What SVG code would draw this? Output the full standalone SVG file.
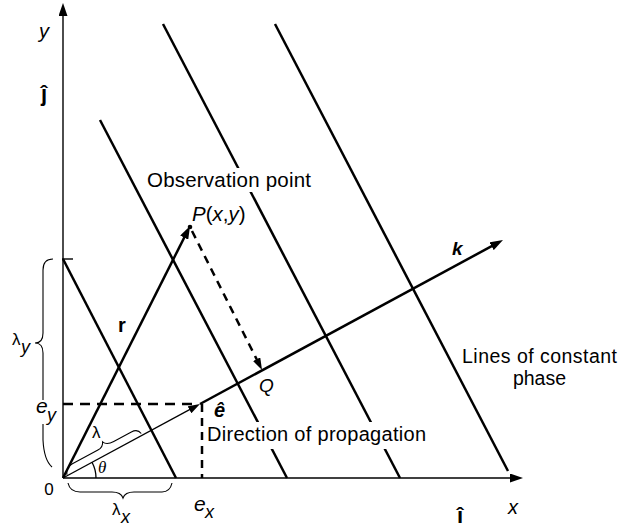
<svg xmlns="http://www.w3.org/2000/svg" width="621" height="531" viewBox="0 0 621 531">
<style>
text{font-family:"Liberation Sans",Arial,Helvetica,sans-serif;fill:#000}
.it{font-style:italic}
.bd{font-weight:bold}
.ser{font-family:"Liberation Serif","Times New Roman",serif;font-style:italic}
.ax{stroke:#000;stroke-width:1.4;fill:none}
.ph{stroke:#000;stroke-width:2.5;fill:none}
.thick{stroke:#000;stroke-width:2.5;fill:none}
.thin{stroke:#000;stroke-width:1.3;fill:none}
.dash{stroke:#000;stroke-width:2.5;fill:none;stroke-dasharray:10 7}
.dash2{stroke:#000;stroke-width:2.5;fill:none;stroke-dasharray:8 6}
.brace{stroke:#000;stroke-width:1.1;fill:none}
.bg{fill:#fff;stroke:none}
</style>
<defs>
<marker id="ah" viewBox="0 0 13 9" refX="8" refY="4.5" markerWidth="13" markerHeight="9" markerUnits="userSpaceOnUse" orient="auto">
<path d="M0,0 L13,4.5 L0,9 z" fill="#000"/>
</marker>
<marker id="ahs" viewBox="0 0 12 8" refX="7" refY="4" markerWidth="12" markerHeight="8" markerUnits="userSpaceOnUse" orient="auto">
<path d="M0,0 L12,4 L0,8 z" fill="#000"/>
</marker>
</defs>
<rect width="621" height="531" fill="#fff"/>

<g id="axes">
<line class="ax" x1="63" y1="478" x2="63" y2="8" marker-end="url(#ah)"/>
<line class="ax" x1="63" y1="478" x2="518" y2="478" marker-end="url(#ah)"/>
<line class="ax" x1="62" y1="259" x2="73" y2="259" stroke-width="1"/>
</g>

<g id="phase-lines">
<line class="ph" x1="63" y1="259" x2="176" y2="478"/>
<line class="ph" x1="100" y1="120" x2="287" y2="478"/>
<line class="ph" x1="163" y1="24" x2="400" y2="478"/>
<line class="ph" x1="275" y1="24" x2="508" y2="471"/>
</g>

<g id="connectors">
<line class="dash" x1="63" y1="404" x2="199" y2="404"/>
<line class="dash2" x1="202" y1="404" x2="202" y2="478"/>
<line class="thin" x1="63" y1="478" x2="195.6" y2="406.4" marker-end="url(#ahs)"/>
<line class="thick" x1="200" y1="404" x2="498.6" y2="242.4" marker-end="url(#ah)"/>
<line class="thick" x1="63" y1="478" x2="187.8" y2="230.5" marker-end="url(#ah)"/>
<line class="dash2" x1="192" y1="231" x2="259.8" y2="365.5" marker-end="url(#ahs)"/>
<circle cx="190" cy="227" r="2.3" fill="#000"/>
<path class="thin" d="M96,478 A33,33 0 0 0 92,462.3"/>
</g>

<g id="braces">
<path class="brace" d="M53,259 Q43,259 43,270 L43,333 Q43,343 35,343 Q43,343 43,353 L43,440 Q44,460 52,467"/>
<path class="brace" d="M68,483 Q70,492 80,492 L112,492 Q121,492 123,498 Q125,492 134,492 L162,492 Q170,492 172,483"/>
<path class="brace" transform="translate(63,478) rotate(-28.37)" d="M5,-1 Q7,-8 15,-8 L44,-8 Q50,-8 52,-13 Q54,-8 62,-8 L82,-8 Q89,-8 90,-2"/>
</g>

<g id="text-backgrounds">
<rect class="bg" x="146" y="168" width="168" height="24"/>
<rect class="bg" x="205" y="422" width="224" height="27"/>
<rect class="bg" x="35" y="400" width="21" height="24"/>
</g>

<g id="labels">
<text class="it" x="39" y="38" font-size="20">y</text>
<text class="bd" x="44" y="101" font-size="22" text-anchor="middle">ĵ</text>
<text class="bd" x="460" y="523" font-size="22" text-anchor="middle">î</text>
<text class="it" x="508" y="514" font-size="20">x</text>
<text x="49" y="495" font-size="17" text-anchor="middle">0</text>
<text class="it" x="36" y="413" font-size="21">e</text>
<text class="it" x="47" y="421" font-size="18">y</text>
<text class="it" x="194" y="511" font-size="21">e</text>
<text class="it" x="205" y="518" font-size="18">x</text>
<text x="112" y="515" font-size="17">λ</text>
<text class="it" x="121" y="523" font-size="18">x</text>
<text x="12" y="345" font-size="17">λ</text>
<text class="it" x="21" y="353" font-size="18">y</text>
<text x="92" y="438" font-size="17">λ</text>
<text class="ser" x="98" y="473" font-size="17">θ</text>
<text class="bd" x="118" y="332" font-size="20">r</text>
<text class="bd it" x="452" y="255" font-size="19">k</text>
<text class="bd it" x="214" y="417" font-size="20">ê</text>
<text class="it" x="259" y="392" font-size="19">Q</text>
<text x="192" y="221" font-size="20.5"><tspan class="it">P</tspan>(<tspan class="it">x</tspan>,<tspan class="it">y</tspan>)</text>
<text x="147" y="187" font-size="20.5" textLength="164" lengthAdjust="spacing">Observation point</text>
<text x="207" y="441" font-size="20" textLength="219" lengthAdjust="spacing">Direction of propagation</text>
<text x="462" y="363" font-size="19.5" textLength="155" lengthAdjust="spacing">Lines of constant</text>
<text x="539.5" y="385" font-size="19.5" text-anchor="middle">phase</text>
</g>
</svg>
